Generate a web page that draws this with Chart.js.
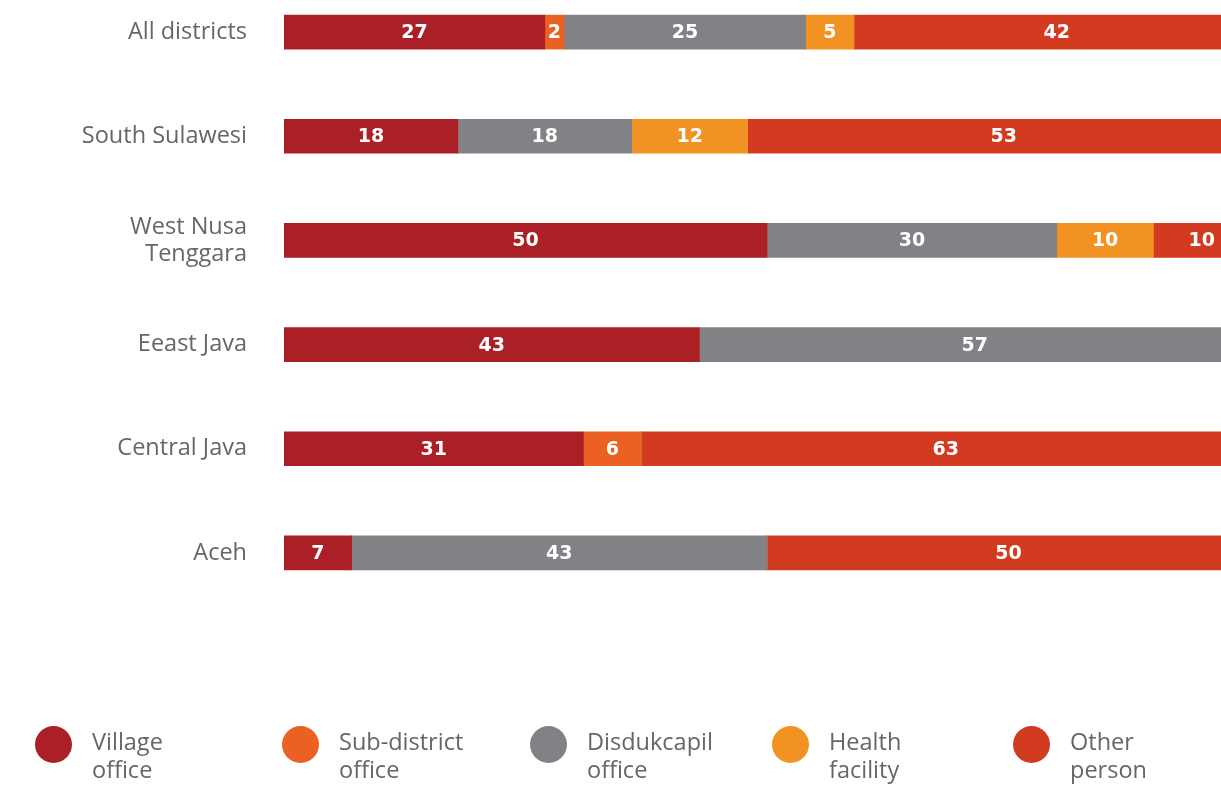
<!DOCTYPE html>
<html>
<head>
<meta charset="utf-8">
<script src="https://cdn.jsdelivr.net/npm/chart.js@4.4.1/dist/chart.umd.min.js"></script>
<style>
  html, body { margin: 0; padding: 0; background: #fff; overflow: hidden; }
  body { width: 1221px; height: 785px; position: relative; font-family: "Open Sans", sans-serif; }
  .chart-box { position: absolute; left: 0; top: -20px; width: 1260px; height: 625px; }
  .legend { position: absolute; left: 0; top: 0; width: 1221px; height: 785px; }
  .legend-item { position: absolute; top: 726px; display: flex; }
  .legend-dot { width: 37px; height: 37px; border-radius: 50%; flex: none; }
  .legend-text { margin-left: 20px; margin-top: 1px; font-size: 23.5px; line-height: 28px; color: #666; }
</style>
</head>
<body>
<div class="chart-box"><canvas id="chart"></canvas></div>
<div class="legend" id="legend"></div>
<script>
const regions = ["All districts", "South Sulawesi", ["West Nusa", "Tenggara"], "Eeast Java", "Central Java", "Aceh"];

const seriesNames = [["Village", "office"], ["Sub-district", "office"], ["Disdukcapil", "office"], ["Health", "facility"], ["Other", "person"]];
const seriesColors = ["#AB1F26", "#EB6124", "#818285", "#F29222", "#D23B20"];

const villageOffice     = [27, 18, 50, 43, 31, 7];
const subDistrictOffice = [2, 0, 0, 0, 6, 0];
const disdukcapilOffice = [25, 18, 30, 57, 0, 43];
const healthFacility    = [5, 12, 10, 0, 0, 0];
const otherPerson       = [42, 53, 10, 0, 63, 50];

const seriesValues = [villageOffice, subDistrictOffice, disdukcapilOffice, healthFacility, otherPerson];

const legendX = [35, 282, 530, 772, 1013];

// white value text centred on each segment
const barValues = {
  id: "barValues",
  afterDatasetsDraw(chart) {
    const ctx = chart.ctx;
    ctx.save();
    ctx.fillStyle = "#fff";
    ctx.font = "bold 19px 'DejaVu Sans', sans-serif";
    ctx.textAlign = "center";
    ctx.textBaseline = "middle";
    chart.data.datasets.forEach((ds, i) => {
      chart.getDatasetMeta(i).data.forEach((bar, j) => {
        const v = ds.data[j];
        if (!v) return;
        const x = (bar.x + bar.base) / 2;
        ctx.fillText(v, x, bar.y + 1);
      });
    });
    ctx.restore();
  }
};

new Chart(document.getElementById("chart"), {
  type: "bar",
  data: {
    labels: regions,
    datasets: seriesValues.map((values, i) => ({
      label: seriesNames[i].join(" "),
      data: values,
      backgroundColor: seriesColors[i],
      borderWidth: 0,
      barThickness: 34,
    })),
  },
  options: {
    indexAxis: "y",
    responsive: true,
    maintainAspectRatio: false,
    animation: false,
    layout: { padding: { left: 0, right: 10, top: 0, bottom: 0 } },
    scales: {
      x: {
        stacked: true,
        min: 0,
        max: 100,
        display: false,
      },
      y: {
        stacked: true,
        grid: { display: false, drawTicks: false },
        border: { display: false },
        ticks: {
          padding: 37,
          color: "#666",
          font: { family: "'Open Sans', sans-serif", size: 23.5, lineHeight: 1.15 },
        },
        afterFit(scale) {
          scale.width = 284;
          // labels may run past the plot edges; keep the rows evenly spread
          scale.paddingTop = 0;
          scale.paddingBottom = 0;
        },
      },
    },
    plugins: {
      legend: { display: false },
      tooltip: { enabled: false },
    },
  },
  plugins: [barValues],
});

const legend = document.getElementById("legend");
seriesNames.forEach((name, i) => {
  const item = document.createElement("div");
  item.className = "legend-item";
  item.style.left = legendX[i] + "px";
  item.innerHTML = '<div class="legend-dot" style="background:' + seriesColors[i] + '"></div>' +
    '<div class="legend-text">' + name[0] + "<br>" + name[1] + "</div>";
  legend.appendChild(item);
});
</script>
</body>
</html>
